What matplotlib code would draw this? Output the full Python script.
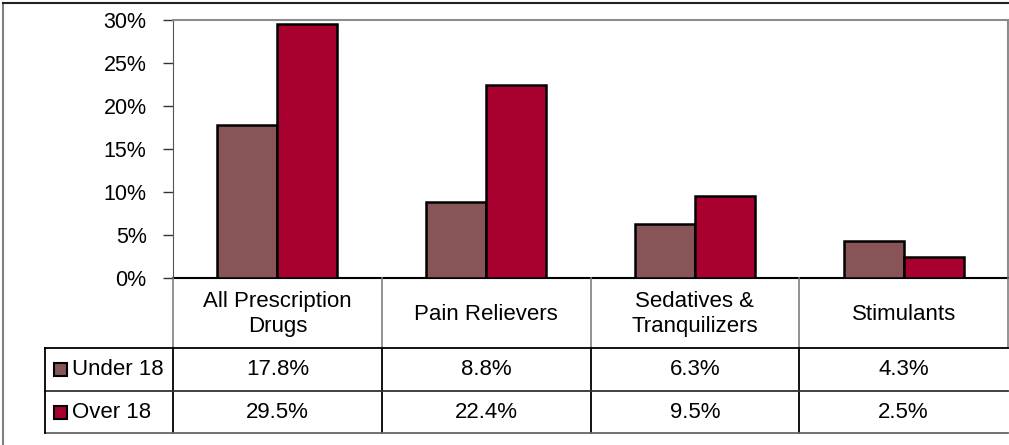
import matplotlib.pyplot as plt
import matplotlib.transforms as mtransforms
from matplotlib.patches import Rectangle
from matplotlib.lines import Line2D

categories = ["All Prescription\nDrugs", "Pain Relievers", "Sedatives &\nTranquilizers", "Stimulants"]
series_names = ["Under 18", "Over 18"]
under_18 = [17.8, 8.8, 6.3, 4.3]
over_18 = [29.5, 22.4, 9.5, 2.5]
colors = ["#875457", "#A8002F"]
yticks = [0, 5, 10, 15, 20, 25, 30]

plt.rcParams['font.family'] = ['Liberation Sans', 'DejaVu Sans']

W, H = 1009, 445
fig = plt.figure(figsize=(W / 100, H / 100), dpi=100)

# plot area in pixels
left, right, top, bottom = 173, 1008, 20, 278
ax = fig.add_axes([left / W, 1 - bottom / H, (right - left) / W, (bottom - top) / H])

# outer chart frame
fig.add_artist(Line2D([3 / W, 3 / W], [0, 1 - 3 / H], color="#808080", lw=1.5, transform=fig.transFigure))
fig.add_artist(Line2D([3 / W, 1], [1 - 3 / H, 1 - 3 / H], color="#222222", lw=1.5, transform=fig.transFigure))

x = list(range(len(categories)))
bw = 0.287
ax.bar([i - bw / 2 for i in x], under_18, bw, color=colors[0], edgecolor="black", lw=1.8, zorder=3)
ax.bar([i + bw / 2 for i in x], over_18, bw, color=colors[1], edgecolor="black", lw=1.8, zorder=3)

ax.set_xlim(-0.5, len(categories) - 0.5)
ax.set_ylim(0, 30)
ax.set_yticks(yticks)
ax.set_yticklabels([f"{t}%" for t in yticks], fontsize=15.5)
ax.tick_params(axis="y", length=7, width=1, color="#333333", pad=12)
ax.set_xticks([])

for s in ["top", "right"]:
    ax.spines[s].set_color("#8c8c8c")
    ax.spines[s].set_linewidth(1.5)
ax.spines["left"].set_color("#555555")
ax.spines["bottom"].set_color("black")
ax.spines["bottom"].set_linewidth(1.5)

# data table below the axis
trans = mtransforms.blended_transform_factory(ax.transData, fig.transFigure)
def fy(py):
    return 1 - py / H

hdr_bot, r1_bot, r2_bot = 348, 391, 433
row_left_px = 45

# header column separators (gray)
for i in range(len(categories) + 1):
    xb = i - 0.5
    fig.add_artist(Line2D([xb, xb], [fy(bottom), fy(hdr_bot)], color="#808080", lw=1.2, transform=trans))
    if i < len(categories):
        fig.add_artist(Line2D([xb, xb], [fy(hdr_bot), fy(r2_bot)], color="black", lw=1.3, transform=trans))

# horizontal lines
xl = row_left_px / W
for py, c in [(hdr_bot, "black"), (r1_bot, "#333333"), (r2_bot, "#666666")]:
    fig.add_artist(Line2D([xl, right / W], [fy(py), fy(py)], color=c, lw=1.3, transform=fig.transFigure))
fig.add_artist(Line2D([xl, xl], [fy(hdr_bot), fy(r2_bot)], color="black", lw=1.3, transform=fig.transFigure))

for i, cat in enumerate(categories):
    fig.text(i, fy((bottom + hdr_bot) / 2 + 1), cat, transform=trans, ha="center", va="center",
             fontsize=16, linespacing=1.3)

rows = [under_18, over_18]
row_mid = [(hdr_bot + r1_bot) / 2, (r1_bot + r2_bot) / 2]
for r, vals in enumerate(rows):
    ymid = fy(row_mid[r])
    for i, v in enumerate(vals):
        fig.text(i, ymid, f"{v:.1f}%", transform=trans, ha="center", va="center", fontsize=16)
    # legend key
    kx, ks = 54, 13
    fig.add_artist(Rectangle((kx / W, ymid - ks / 2 / H), ks / W, ks / H, facecolor=colors[r],
                             edgecolor="black", lw=1.5, transform=fig.transFigure))
    fig.text(72 / W, ymid, series_names[r], ha="left", va="center", fontsize=16)

fig.savefig("out.png", dpi=100)
